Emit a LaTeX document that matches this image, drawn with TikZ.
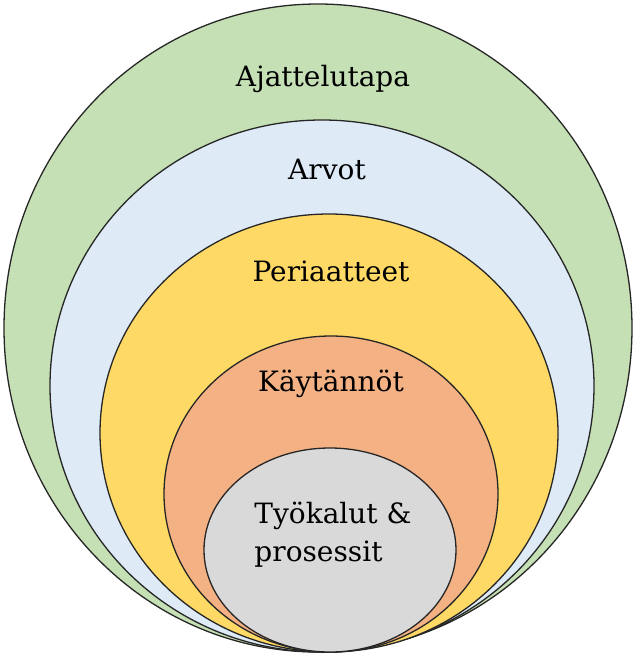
\documentclass[tikz,border=0pt]{standalone}
\usepackage{fontspec}
\setmainfont{DejaVu Serif}
\definecolor{ringgreen}{HTML}{C5E0B4}
\definecolor{ringblue}{HTML}{DEEBF7}
\definecolor{ringyellow}{HTML}{FFD966}
\definecolor{ringorange}{HTML}{F4B183}
\definecolor{ringgray}{HTML}{D9D9D9}
\tikzset{
  ring/.style={draw=black!85, line width=1.3pt},
  lbl/.style={font=\fontsize{28}{38}\selectfont, text=black, inner sep=0pt}
}
\begin{document}
\begin{tikzpicture}[x=1pt, y=-1pt]
  \useasboundingbox (0,0) rectangle (633,654);
  % nested layers, all touching at the bottom
  \filldraw[ring, fill=ringgreen]  (318,328)   ellipse [x radius=314, y radius=324];
  \filldraw[ring, fill=ringblue]   (322,386)   ellipse [x radius=272, y radius=266];
  \filldraw[ring, fill=ringyellow] (329,433)   ellipse [x radius=229, y radius=219];
  \filldraw[ring, fill=ringorange] (331,494)   ellipse [x radius=167, y radius=158];
  \filldraw[ring, fill=ringgray]   (330,550)   ellipse [x radius=126, y radius=102];
  % layer names
  \node[lbl] (mindset)    at (323,79)  {Ajattelutapa};
  \node[lbl] (values)     at (327,169) {Arvot};
  \node[lbl] (principles) at (331,271) {Periaatteet};
  \node[lbl] (practices)  at (331,384) {Käytännöt};
  \node[lbl, align=left] (tools) at (333,535) {Työkalut \&\\prosessit};
\end{tikzpicture}
\end{document}
